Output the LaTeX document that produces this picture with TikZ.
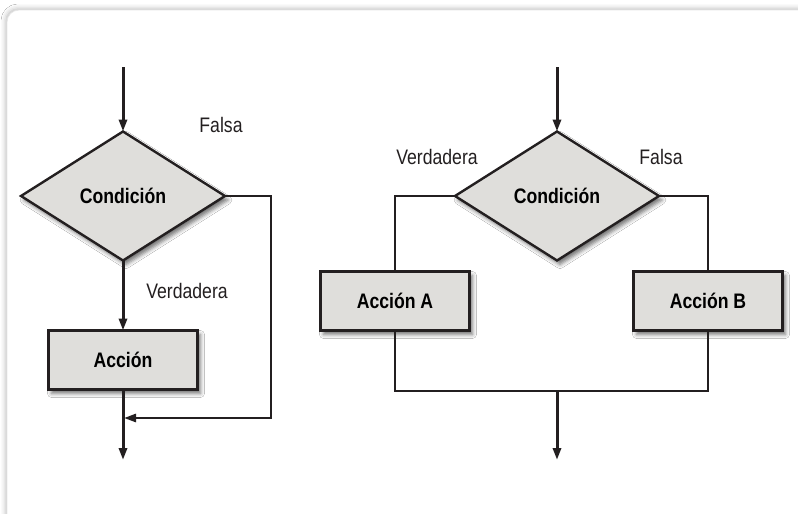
\documentclass[tikz,border=0pt]{standalone}
\usepackage{fontspec}
\setmainfont{Liberation Sans}[FakeStretch=0.84]
\usetikzlibrary{arrows.meta,positioning,shapes.geometric,shadows.blur}
\definecolor{ink}{HTML}{231F20}
\definecolor{lt}{HTML}{DFDEDB}
\definecolor{edge}{HTML}{E6E6E6}
\newcommand{\txt}{\fontsize{21}{25}\selectfont}
\tikzset{
  box/.style={draw=ink,line width=2.4pt,fill=lt,minimum width=149pt,minimum height=59pt,
    inner sep=0pt,outer sep=0pt,font=\txt\bfseries,
    blur shadow={shadow xshift=3pt,shadow yshift=-4pt,shadow blur radius=4pt,shadow opacity=55}},
  dec/.style={box,diamond,minimum width=204pt,minimum height=129pt},
  ar/.style={-{Triangle[length=12pt,width=8pt]},line width=3pt,draw=ink},
  ln/.style={line width=2.4pt,draw=ink},
  lbl/.style={inner sep=0pt,text=ink},
}
\begin{document}
\begin{tikzpicture}[x=1pt,y=-1pt,font=\txt]
\useasboundingbox (0,0) rectangle (798,514);
% card
\fill[white] (0,0) rectangle (798,514);
\path[fill=white,draw=edge,line width=0.8pt,rounded corners=12pt,
  blur shadow={shadow xshift=-1pt,shadow yshift=1pt,shadow blur radius=5pt,shadow opacity=30}]
  (7,10) rectangle (830,540);
% left: single branch
\coordinate (ltop) at (123,67);
\node[dec] (lcond) at (123,196) {Condición};
\node[box] (lact) at (123,360) {Acción};
\coordinate (lcorner) at (271,418);
\coordinate (ljoin) at (124,418);
\coordinate (lend) at (123,460);
\node[lbl] (lfalse) at (221,125) {Falsa};
\node[lbl] (ltrue) at (187,291) {Verdadera};
\draw[ar] (ltop) -- (lcond.north);
\draw[ar] (lcond.south) -- (lact.north);
\draw[ar] (lact.south) -- (lend);
\draw[ar,line width=2.6pt] (lcond.east) -| (lcorner) -- (ljoin);
% right: two branches
\coordinate (rtop) at (557,67);
\node[dec] (rcond) at (557,196) {Condición};
\node[box] (acta) at (395,301) {Acción A};
\node[box] (actb) at (708,301) {Acción B};
\coordinate (rjoin) at (557,391);
\coordinate (rend) at (557,460);
\node[lbl] (rtrue) at (437,157) {Verdadera};
\node[lbl] (rfalse) at (661,157) {Falsa};
\draw[ar] (rtop) -- (rcond.north);
\draw[ln] (rcond.west) -| (acta.north);
\draw[ln] (rcond.east) -| (actb.north);
\draw[ln] (acta.south) |- (rjoin) -| (actb.south);
\draw[ar] (rjoin) -- (rend);
\end{tikzpicture}
\end{document}
